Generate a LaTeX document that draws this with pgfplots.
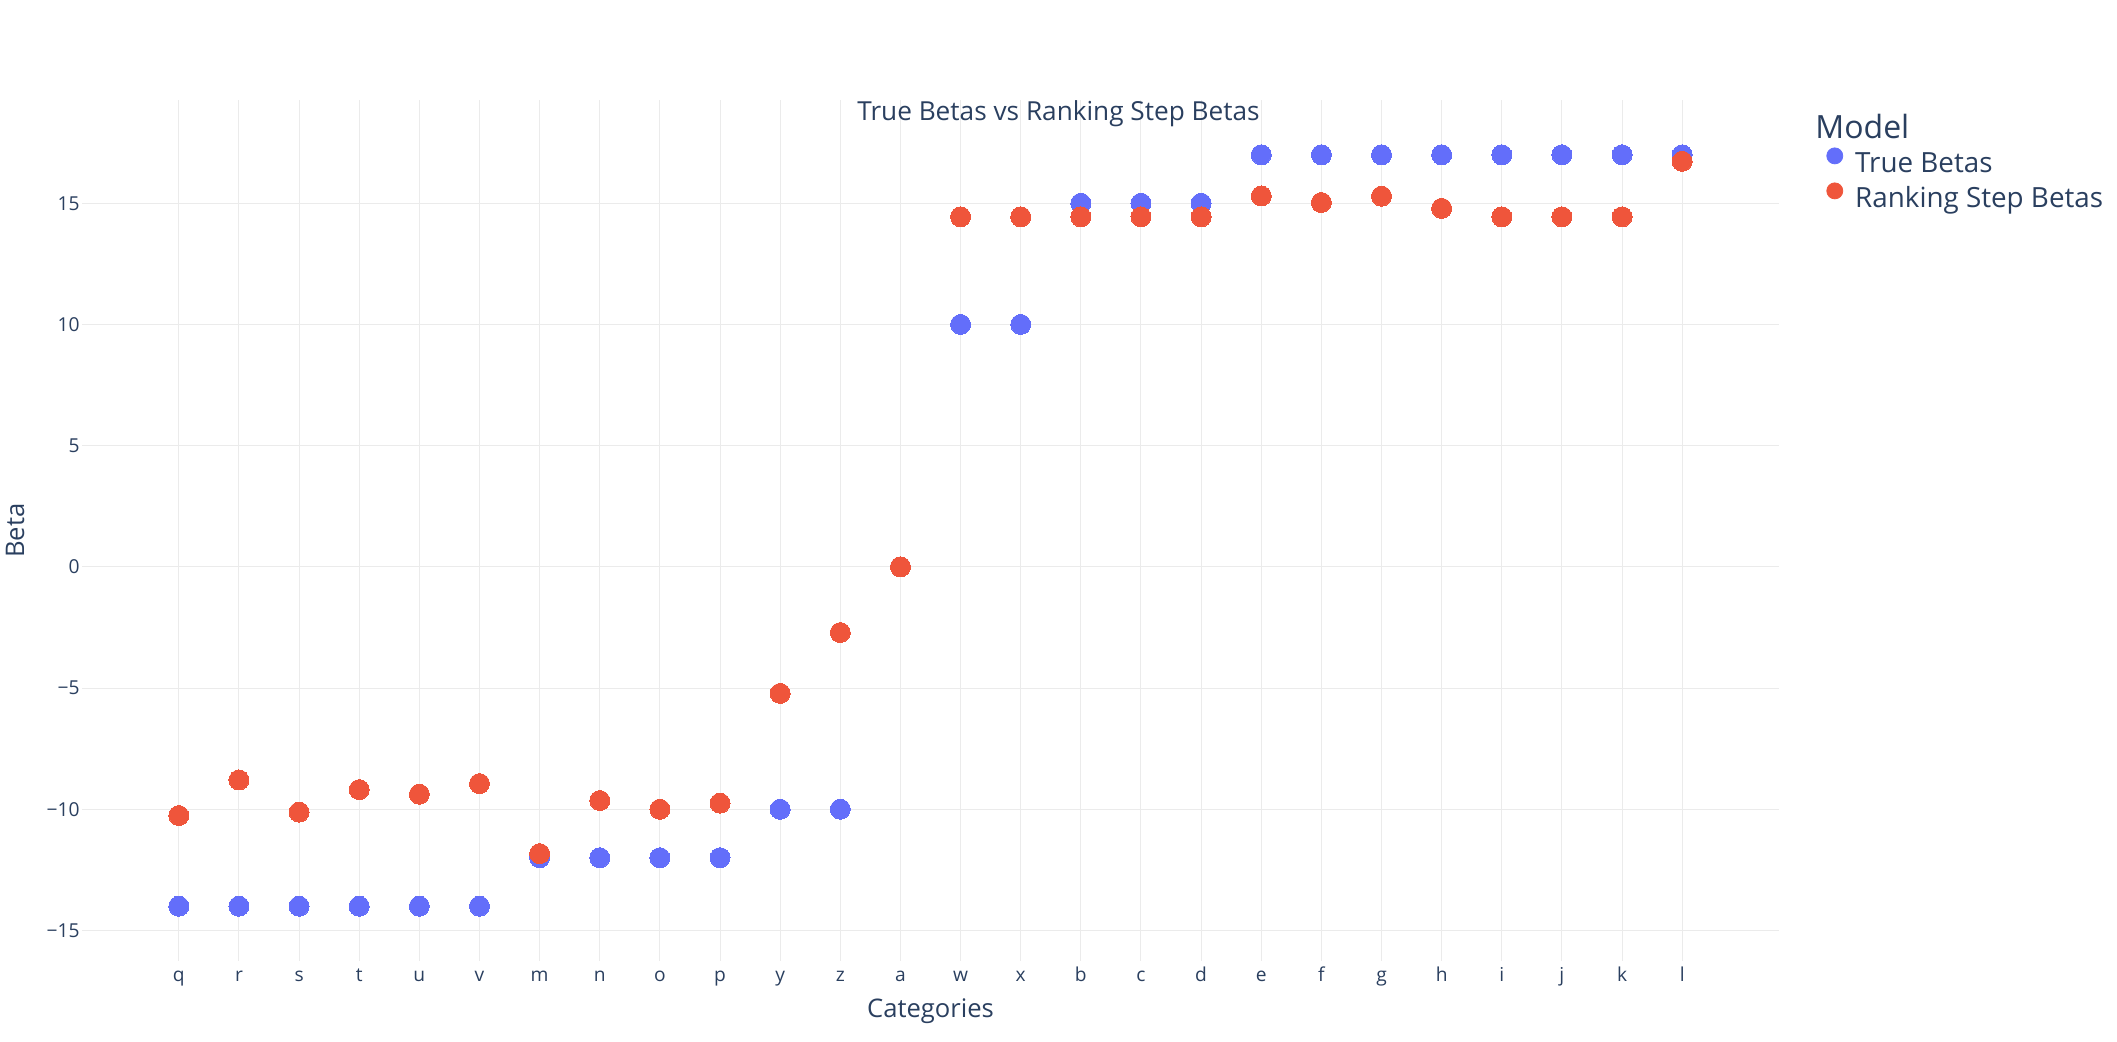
\documentclass[border=0pt]{standalone}
\usepackage{fontspec}
\setmainfont{Open Sans}
\usepackage{pgfplots}
\pgfplotsset{compat=1.18}
\definecolor{txt}{HTML}{2A3F5F}
\definecolor{grd}{HTML}{EBEBEB}
\definecolor{pblue}{HTML}{636EFA}
\definecolor{pred}{HTML}{EF553B}
\begin{document}
\begin{tikzpicture}
\path[use as bounding box] (0,0) rectangle (1058.5pt,521pt);
\begin{axis}[
  at={(41pt,40.5pt)}, anchor=south west,
  width=848.5pt, height=430.5pt, scale only axis,
  xmin=-1.61, xmax=26.61, ymin=-16.26, ymax=19.26,
  axis line style={draw=none},
  major tick length=0pt,
  xtick={0,...,25},
  xticklabels={q,r,s,t,u,v,m,n,o,p,y,z,a,w,x,b,c,d,e,f,g,h,i,j,k,l},
  ytick={-15,-10,-5,0,5,10,15},
  yticklabels={−15,−10,−5,0,5,10,15},
  grid=major, grid style={color=grd, line width=0.5pt},
  tick label style={font=\fontsize{9.6}{11}\selectfont, text=txt},
  xticklabel style={anchor=base, yshift=-10.5pt},
  yticklabel style={anchor=east, inner sep=0pt, xshift=-1pt},
  legend style={at={(1.0277,0.9396)}, anchor=north west, draw=none, fill=none,
    inner sep=0pt, row sep=4pt, column sep=6pt,
    font=\fontsize{13.9}{16}\selectfont, text=txt,
    nodes={inner sep=0pt, text height=10pt, text depth=3.5pt}},
  legend cell align=left,
]
\addplot[only marks, mark=*, mark size=5pt, color=pblue, mark options={fill=pblue, draw=pblue, line width=0pt},
  legend image code/.code={\fill[pblue,overlay] (4pt,5pt) circle (4pt); \path (0pt,0pt) (8pt,0pt);}]
  coordinates {
  (0,-14) (1,-14) (2,-14) (3,-14) (4,-14) (5,-14)
  (6,-12) (7,-12) (8,-12) (9,-12)
  (10,-10) (11,-10) (12,0) (13,10) (14,10)
  (15,15) (16,15) (17,15)
  (18,17) (19,17) (20,17) (21,17) (22,17) (23,17) (24,17) (25,17)
  };
\addlegendentry{True Betas}
\addplot[only marks, mark=*, mark size=5pt, color=pred, mark options={fill=pred, draw=pred, line width=0pt},
  legend image code/.code={\fill[pred,overlay] (4pt,5pt) circle (4pt); \path (0pt,0pt) (8pt,0pt);}]
  coordinates {
  (0,-10.26) (1,-8.79) (2,-10.12) (3,-9.19) (4,-9.38) (5,-8.94)
  (6,-11.83) (7,-9.64) (8,-10.00) (9,-9.75)
  (10,-5.22) (11,-2.71) (12,0) (13,14.44) (14,14.44)
  (15,14.44) (16,14.44) (17,14.44)
  (18,15.30) (19,15.03) (20,15.29) (21,14.79) (22,14.44) (23,14.44) (24,14.44) (25,16.73)
  };
\addlegendentry{Ranking Step Betas}
\end{axis}
\node[anchor=base, inner sep=0pt, font=\fontsize{13.1}{15}\selectfont, text=txt] at (529.25pt,460.5pt) {True Betas vs Ranking Step Betas};
\node[anchor=base west, inner sep=0pt, font=\fontsize{16}{19}\selectfont, text=txt] at (907.5pt,451.5pt) {Model};
\node[anchor=base, inner sep=0pt, font=\fontsize{12.8}{15}\selectfont, text=txt] at (465.25pt,12.25pt) {Categories};
\node[anchor=base, rotate=90, inner sep=0pt, font=\fontsize{12.8}{15}\selectfont, text=txt] at (12pt,255.75pt) {Beta};
\end{tikzpicture}
\end{document}
